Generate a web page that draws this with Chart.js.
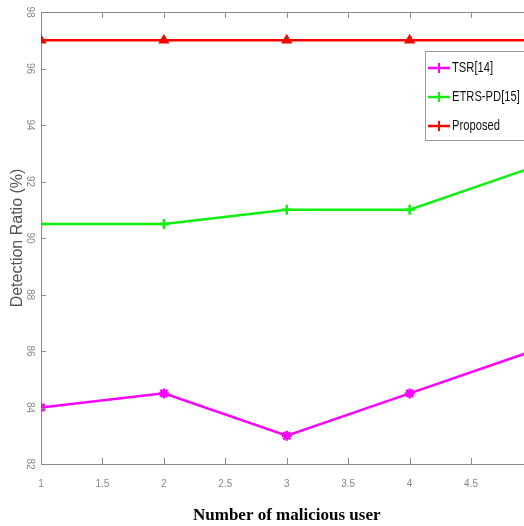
<!DOCTYPE html>
<html>
<head>
<meta charset="utf-8">
<script src="https://cdn.jsdelivr.net/npm/chart.js@4.4.1/dist/chart.umd.min.js"></script>
<style>
    html, body { margin: 0; padding: 0; background: #fff; overflow: hidden; }
    #wrap { width: 540px; height: 526px; }
</style>
</head>
<body>
<div id="wrap"><canvas id="detChart" width="540" height="526"></canvas></div>
<script>
// data
const users = [1, 2, 3, 4, 5];
const tsr = [84, 84.5, 83, 84.5, 86];
const etrs = [90.5, 90.5, 91, 91, 92.5];
const proposed = [97, 97, 97, 97, 97];
const xTicks = [1, 1.5, 2, 2.5, 3, 3.5, 4, 4.5, 5];
const yTicks = [82, 84, 86, 88, 90, 92, 94, 96, 98];

function toPoints(vals) {
    return users.map((u, i) => ({ x: u, y: vals[i] }));
}

// MATLAB-like frame: top border, inward ticks, boxed legend
const framePlugin = {
    id: 'frame',
    afterDraw(chart) {
        const ctx = chart.ctx;
        const area = chart.chartArea;
        const xs = chart.scales.x;
        const ys = chart.scales.y;
        ctx.save();
        ctx.strokeStyle = '#8a8a8a';
        ctx.lineWidth = 1;
        ctx.beginPath();
        ctx.moveTo(area.left, area.top + 0.5);
        ctx.lineTo(area.right, area.top + 0.5);
        xTicks.forEach(v => {
            const px = Math.round(xs.getPixelForValue(v)) + 0.5;
            ctx.moveTo(px, area.bottom);
            ctx.lineTo(px, area.bottom - 6);
            ctx.moveTo(px, area.top);
            ctx.lineTo(px, area.top + 6);
        });
        yTicks.forEach(v => {
            const py = Math.round(ys.getPixelForValue(v)) + 0.5;
            ctx.moveTo(area.left, py);
            ctx.lineTo(area.left + 5, py);
        });
        ctx.stroke();

        // legend box
        const bx = 425, by = 51, bw = 110, bh = 89;
        ctx.fillStyle = '#fff';
        ctx.fillRect(bx, by, bw, bh);
        ctx.strokeStyle = '#9a9a9a';
        ctx.strokeRect(bx + 0.5, by + 0.5, bw, bh);
        ctx.font = '14px "Liberation Sans", Arial, sans-serif';
        ctx.textBaseline = 'middle';
        chart.data.datasets.forEach((ds, i) => {
            const y = by + 17 + i * 29;
            ctx.strokeStyle = ds.borderColor;
            ctx.lineWidth = 2.5;
            ctx.beginPath();
            ctx.moveTo(bx + 3, y);
            ctx.lineTo(bx + 25, y);
            ctx.stroke();
            ctx.lineWidth = 2;
            ctx.beginPath();
            ctx.moveTo(bx + 14, y - 5);
            ctx.lineTo(bx + 14, y + 5);
            ctx.stroke();
            ctx.save();
            ctx.translate(bx + 27, y);
            ctx.scale(0.8, 1.05);
            ctx.fillStyle = '#111';
            ctx.fillText(ds.label, 0, 0);
            ctx.restore();
        });
        ctx.restore();
    }
};

const tickFont = { family: '"Liberation Sans", Arial', size: 10 };

const ctx = document.getElementById('detChart').getContext('2d');
new Chart(ctx, {
    type: 'line',
    data: {
        datasets: [{
            label: 'TSR[14]',
            data: toPoints(tsr),
            borderColor: '#ff00ff',
            backgroundColor: '#ff00ff',
            pointStyle: 'star',
            pointRadius: 5,
            borderWidth: 2.5
        }, {
            label: 'ETRS-PD[15]',
            data: toPoints(etrs),
            borderColor: '#11ee11',
            backgroundColor: '#11ee11',
            pointStyle: 'cross',
            pointRadius: 5,
            borderWidth: 2.5
        }, {
            label: 'Proposed',
            data: toPoints(proposed),
            borderColor: '#ff0000',
            backgroundColor: '#ff0000',
            pointStyle: 'triangle',
            pointRadius: 4,
            borderWidth: 2.5
        }]
    },
    options: {
        responsive: false,
        animation: false,
        layout: { padding: { top: 12, right: 0, left: 0, bottom: 0 } },
        plugins: {
            legend: { display: false },
            tooltip: { enabled: false }
        },
        scales: {
            x: {
                type: 'linear',
                min: 1,
                max: 5,
                afterBuildTicks: s => { s.ticks = xTicks.map(v => ({ value: v })); },
                afterFit: s => { s.height = 62; },
                grid: { display: false },
                border: { color: '#8a8a8a', width: 1 },
                ticks: {
                    color: '#888',
                    padding: 6,
                    callback: v => (v === 5 ? '' : String(v)),
                    font: tickFont
                },
                title: {
                    display: true,
                    text: 'Number of malicious user',
                    color: '#000',
                    font: { family: '"Liberation Serif", "Times New Roman", serif', size: 17, weight: 'bold' },
                    padding: { top: 20, bottom: 0 }
                }
            },
            y: {
                min: 82,
                max: 98,
                afterBuildTicks: s => { s.ticks = yTicks.map(v => ({ value: v })); },
                afterFit: s => { s.width = 41; },
                grid: { display: false },
                border: { color: '#8a8a8a', width: 1 },
                ticks: {
                    color: '#888',
                    padding: -2,
                    minRotation: -90,
                    maxRotation: -90,
                    crossAlign: 'center',
                    font: tickFont
                },
                title: {
                    display: true,
                    text: 'Detection Ratio (%)',
                    color: '#555',
                    font: { family: '"Liberation Sans", Arial, sans-serif', size: 16 },
                    padding: { top: 8, bottom: 0 }
                }
            }
        }
    },
    plugins: [framePlugin]
});
</script>
</body>
</html>
